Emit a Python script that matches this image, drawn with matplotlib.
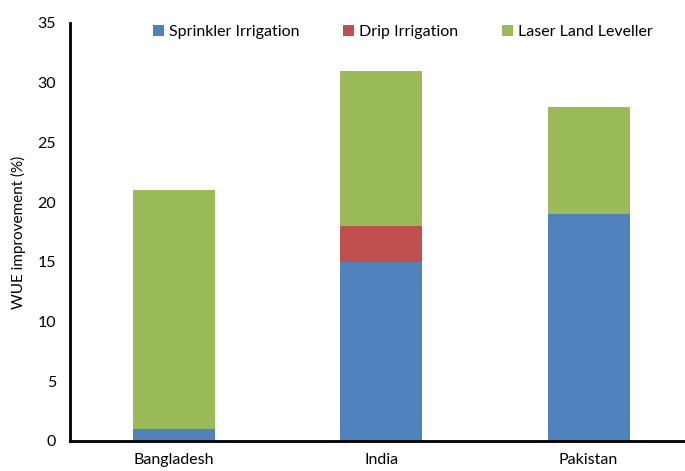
import matplotlib.pyplot as plt
import numpy as np

plt.rcParams['font.family'] = ['Lato', 'DejaVu Sans']

countries = ["Bangladesh", "India", "Pakistan"]
sprinkler = [1, 15, 19]
drip = [0, 3, 0]
laser = [20, 13, 9]

series_names = ["Sprinkler Irrigation", "Drip Irrigation", "Laser Land Leveller"]
colors = ["#4F81BD", "#C0504D", "#9BBB59"]

fig = plt.figure(figsize=(6.85, 4.71), dpi=100)
ax = fig.add_axes([0.102, 0.0637, 0.898, 0.8875])

x = np.arange(len(countries))
w = 0.395
bottom = np.zeros(len(countries))
for vals, name, c in zip([sprinkler, drip, laser], series_names, colors):
    ax.bar(x, vals, w, bottom=bottom, color=c, label=name)
    bottom += np.array(vals)

ax.set_xlim(-0.5, 2.465)
ax.set_ylim(0, 35)
ax.set_yticks(range(0, 36, 5))
ax.set_xticks(x)
ax.set_xticklabels(countries, fontsize=11.5)
ax.tick_params(axis='y', length=0, labelsize=11.5, pad=10)
ax.tick_params(axis='x', length=0, pad=9)
ax.set_ylabel("WUE improvement (%)", fontsize=11, labelpad=8)

for s in ['top', 'right']:
    ax.spines[s].set_visible(False)
for s in ['left', 'bottom']:
    ax.spines[s].set_linewidth(2)

ax.legend(loc='upper center', bbox_to_anchor=(0.541, 1.03), ncol=3, frameon=False,
          fontsize=11.5, handlelength=0.7, handleheight=0.7, handletextpad=0.3,
          columnspacing=2.75)

fig.savefig("out.png", dpi=100)
